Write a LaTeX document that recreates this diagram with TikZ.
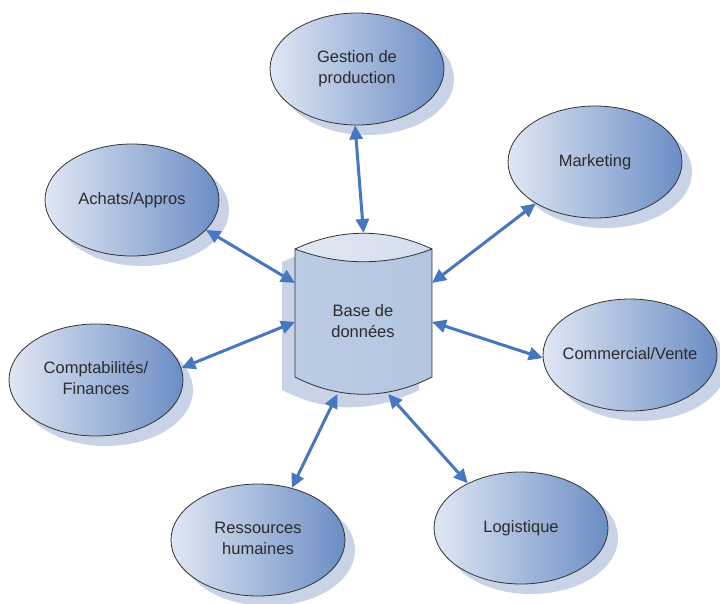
\documentclass[tikz,border=0pt]{standalone}
\usepackage{fontspec}
\setmainfont{Liberation Sans}
\usetikzlibrary{shapes.geometric,arrows.meta,shadows}
\definecolor{ellL}{HTML}{E0E7F3}
\definecolor{ellR}{HTML}{6B8DC5}
\definecolor{shad}{HTML}{C9D3E7}
\definecolor{arr}{HTML}{4677C0}
\definecolor{txt}{HTML}{2B2B2B}
\definecolor{cylL}{HTML}{BCCBE4}
\definecolor{cylM}{HTML}{F3F6FB}
\definecolor{cylR}{HTML}{B3C5E0}
\definecolor{lensL}{HTML}{E2E8F3}
\definecolor{lensR}{HTML}{D3DDEC}
\newcommand\mylbl[1]{\makebox[0pt]{\begin{tabular}{@{}c@{}}#1\end{tabular}}}
\begin{document}
\begin{tikzpicture}[x=1pt,y=-1pt,
  dept/.style={ellipse, draw=black!80, line width=0.8pt, minimum width=174pt,
    minimum height=112pt, inner sep=0pt, left color=ellL, right color=ellR,
    drop shadow={shadow xshift=10pt, shadow yshift=-10pt, fill=shad, opacity=1},
    font=\fontsize{16.5}{20.5}\selectfont, text=txt},
  dbtext/.style={align=center, font=\fontsize{16.5}{21}\selectfont, text=txt},
  dbbox/.style={draw=none, minimum width=137pt, minimum height=161pt, inner sep=0pt, outer sep=0pt},
  link/.style={draw=arr, line width=3pt, {Triangle[length=14pt,width=13pt]}-{Triangle[length=14pt,width=13pt]}}]
\fill[white] (0,0) rectangle (720,603);
\useasboundingbox (0,0) rectangle (720,603);

% database cylinder
\begin{scope}[shift={(-13,13)}]
\fill[shad] (295,249) .. controls (340,228) and (387,228) .. (432,249) -- (432,377)
  .. controls (387,400) and (340,400) .. (295,377) -- cycle;
\end{scope}
\path[left color=cylL, middle color=cylM, right color=cylR] (295,249) .. controls (340,228) and (387,228) .. (432,249) -- (432,377)
  .. controls (387,400) and (340,400) .. (295,377) -- cycle;
\path[left color=lensL, middle color=white, right color=lensR] (295,249) .. controls (340,228) and (387,228) .. (432,249)
  .. controls (387,266) and (340,266) .. (295,249) -- cycle;
\draw[black!80, line width=0.8pt] (295,249) .. controls (340,228) and (387,228) .. (432,249) -- (432,377)
  .. controls (387,400) and (340,400) .. (295,377) -- cycle;
\draw[black!80, line width=0.8pt] (295,249) .. controls (340,266) and (387,266) .. (432,249);
\node[dbbox] (db) at (363.5,313.5) {};
\node[dbtext] (dbt) at (363,321) {Base de\\données};

% departments
\node[dept] (gest) at (357,69) {\mylbl{Gestion de\\production}};
\node[dept] (mkt) at (595,162) {\mylbl{Marketing}};
\node[dept] (ach) at (132,200) {\mylbl{Achats/Appros}};
\node[dept] (com) at (630,355) {\mylbl{Commercial/Vente}};
\node[dept] (comp) at (96,380) {\mylbl{Comptabilités/\\Finances}};
\node[dept] (res) at (258,540) {\mylbl{Ressources\\humaines}};
\node[dept] (log) at (521,528) {\mylbl{Logistique}};

% links
\draw[link] (gest.-92) -- (db.north);
\draw[link] (ach.-22) -- (db.156);
\draw[link] (mkt.215) -- (db.24);
\draw[link] (comp.8) -- (db.187);
\draw[link] (com.182) -- (db.-7);
\draw[link] (res.57) -- (db.-108);
\draw[link] (log.140) -- (db.-73);
\end{tikzpicture}
\end{document}
